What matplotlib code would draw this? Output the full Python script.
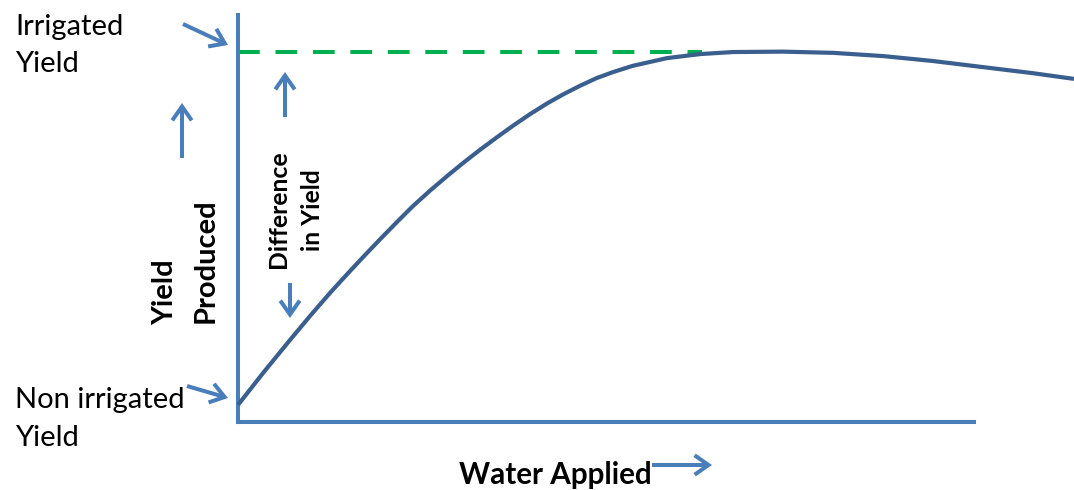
import matplotlib
matplotlib.use("Agg")
import matplotlib.pyplot as plt
from matplotlib.patches import FancyArrowPatch

# ---- data ----
water_applied = [0.0, 3.1, 6.2, 8.6, 11.0, 13.0, 15.0, 17.0, 19.0, 20.9, 23.0,
                 25.0, 26.9, 28.9, 31.0, 32.9, 34.9, 37.0, 38.9, 40.9, 42.9,
                 44.9, 47.2, 51.3, 55.3, 59.2, 65.2, 71.2, 77.2, 83.1, 89.1,
                 95.1, 100.0]
yield_produced = [4.2, 12.3, 20.1, 26.0, 31.7, 36.2, 40.6, 44.9, 49.1, 53.0,
                  56.9, 60.4, 63.6, 66.8, 70.0, 72.8, 75.6, 78.3, 80.5, 82.6,
                  84.5, 86.0, 87.5, 89.4, 90.4, 90.9, 91.0, 90.7, 89.9, 88.7,
                  87.2, 85.7, 84.3]
irrigated_yield = 91.0
irrigated_line_end = 55.5
axis_x_end = 88

FONT = ["Lato", "DejaVu Sans"]
AXIS_BLUE = "#4A7EBB"
CURVE_BLUE = "#3A5F8E"
GREEN = "#00B050"

W, H = 1074, 490
fig = plt.figure(figsize=(W / 100, H / 100), dpi=100)

# main data axes
ax = fig.add_axes([238 / W, (H - 422) / H, (W - 238) / W, (422 - 15) / H])
ax.set_xlim(0, 100)
ax.set_ylim(0, 100)
ax.patch.set_alpha(0)
for s in ["top", "right"]:
    ax.spines[s].set_visible(False)
for s in ["left", "bottom"]:
    ax.spines[s].set_color(AXIS_BLUE)
    ax.spines[s].set_linewidth(2.9)
ax.spines["bottom"].set_bounds(0, axis_x_end)
ax.set_xticks([])
ax.set_yticks([])

ax.plot(water_applied, yield_produced, color=CURVE_BLUE, lw=3.0,
        solid_capstyle="butt", solid_joinstyle="round", clip_on=False,
        zorder=3)
ax.plot([0, irrigated_line_end], [irrigated_yield, irrigated_yield],
        color=GREEN, lw=2.9, dashes=(5.4, 3.9), dash_capstyle="butt",
        clip_on=False, zorder=2)

# overlay axes for annotations in pixel coordinates
ov = fig.add_axes([0, 0, 1, 1])
ov.set_xlim(0, W)
ov.set_ylim(H, 0)
ov.axis("off")
ov.patch.set_alpha(0)


def arrow(x0, y0, x1, y1):
    a = FancyArrowPatch((x0, y0), (x1, y1),
                        arrowstyle="->,head_length=10,head_width=7",
                        mutation_scale=1, color=AXIS_BLUE, lw=2.9,
                        capstyle="butt", joinstyle="miter", shrinkA=0, shrinkB=0)
    ov.add_patch(a)


arrow(183, 24, 228, 45)      # irrigated yield
arrow(187, 386, 228, 398)    # non irrigated
arrow(182, 158, 182, 103)    # up arrow left
arrow(285, 117, 285, 72)     # up arrow difference
arrow(290, 283, 290, 318)    # down arrow difference
arrow(652, 465, 712, 465)    # water applied

reg = dict(fontsize=21, family=FONT, ha="left", va="baseline", color="black")
ov.text(15, 35, "Irrigated", **reg)
ov.text(15, 72, "Yield", **reg)
ov.text(15, 408, "Non irrigated", **reg)
ov.text(15, 446, "Yield", **reg)

rot = dict(fontsize=21, family=FONT, weight="bold", rotation=90,
           rotation_mode="anchor", ha="left", va="baseline", color="black")
ov.text(173, 325, "Yield", **rot)
ov.text(214, 323, "Produced", **rot)

dif = dict(fontsize=17.8, family=FONT, weight="bold", rotation=90,
           rotation_mode="anchor", ha="center", va="baseline", color="black")
ov.text(286, 209, "Difference", **dif)
ov.text(320, 210, "in Yield", **dif)

ov.text(555, 484, "Water Applied", fontsize=21.3, family=FONT, weight="bold",
        ha="center", va="baseline", color="black")

fig.savefig("out.png", dpi=100)
